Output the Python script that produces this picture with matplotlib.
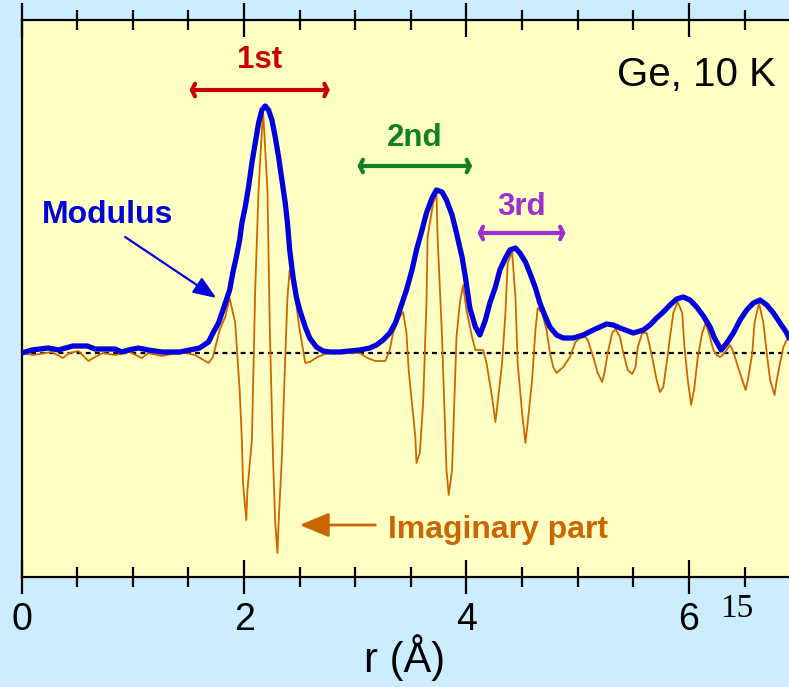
import matplotlib
matplotlib.use("Agg")
import matplotlib.pyplot as plt
from matplotlib.ticker import MultipleLocator

plt.rcParams['font.family'] = ['Liberation Sans', 'DejaVu Sans']

# ---- data (r in Angstrom, FT in arbitrary units) ----
mod_r = [0.00, 0.09, 0.24, 0.33, 0.46, 0.59, 0.66, 0.84, 0.90, 0.96,
         1.05, 1.14, 1.26, 1.42, 1.51, 1.60, 1.68, 1.72, 1.77, 1.81,
         1.84, 1.87, 1.90, 1.93, 1.96, 1.98, 2.01, 2.04, 2.07, 2.10,
         2.13, 2.16, 2.19, 2.22, 2.25, 2.28, 2.31, 2.34, 2.37, 2.39,
         2.41, 2.44, 2.47, 2.50, 2.55, 2.59, 2.65, 2.71, 2.77, 2.86,
         3.04, 3.13, 3.19, 3.25, 3.31, 3.36, 3.40, 3.43, 3.46, 3.51,
         3.55, 3.60, 3.64, 3.69, 3.73, 3.78, 3.82, 3.87, 3.91, 3.96,
         3.99, 4.03, 4.08, 4.12, 4.17, 4.21, 4.26, 4.30, 4.35, 4.39,
         4.44, 4.48, 4.53, 4.57, 4.62, 4.66, 4.71, 4.75, 4.81, 4.87,
         4.96, 5.05, 5.14, 5.20, 5.26, 5.32, 5.38, 5.50, 5.59, 5.65,
         5.71, 5.77, 5.83, 5.89, 5.95, 6.01, 6.07, 6.13, 6.19, 6.23,
         6.29, 6.34, 6.40, 6.46, 6.52, 6.58, 6.64, 6.70, 6.76, 6.82,
         6.88, 6.90]
mod_val = [0.00, 0.03, 0.05, 0.03, 0.07, 0.07, 0.04, 0.04, 0.01, 0.03,
           0.05, 0.03, 0.01, 0.01, 0.03, 0.05, 0.11, 0.20, 0.30, 0.43,
           0.53, 0.63, 0.81, 0.96, 1.13, 1.30, 1.46, 1.66, 1.90, 2.10,
           2.30, 2.43, 2.47, 2.43, 2.33, 2.16, 1.96, 1.73, 1.50, 1.30,
           1.03, 0.76, 0.56, 0.43, 0.26, 0.15, 0.06, 0.02, 0.01, 0.01,
           0.03, 0.05, 0.08, 0.13, 0.20, 0.30, 0.43, 0.53, 0.63, 0.83,
           1.03, 1.23, 1.40, 1.55, 1.63, 1.61, 1.53, 1.38, 1.20, 0.96,
           0.76, 0.45, 0.26, 0.18, 0.33, 0.50, 0.66, 0.83, 0.95, 1.03,
           1.05, 1.00, 0.91, 0.80, 0.65, 0.50, 0.36, 0.26, 0.18, 0.15,
           0.15, 0.18, 0.23, 0.26, 0.29, 0.28, 0.25, 0.20, 0.23, 0.28,
           0.35, 0.41, 0.48, 0.54, 0.56, 0.53, 0.46, 0.37, 0.26, 0.15,
           0.03, 0.10, 0.20, 0.33, 0.43, 0.50, 0.53, 0.48, 0.40, 0.30,
           0.20, 0.15]

im_r = [0.00, 0.10, 0.27, 0.37, 0.43, 0.51, 0.60, 0.66, 0.73, 0.84, 0.97, 1.08,
        1.14, 1.26, 1.35, 1.47, 1.56, 1.68, 1.72, 1.78, 1.83, 1.87, 1.92, 1.94,
        1.96, 1.98, 1.99, 2.02, 2.03, 2.07, 2.10, 2.13, 2.17, 2.21, 2.23, 2.26,
        2.28, 2.30, 2.31, 2.34, 2.37, 2.39, 2.41, 2.46, 2.50, 2.55, 2.59, 2.66,
        2.75, 2.84, 3.04, 3.11, 3.18, 3.27, 3.31, 3.34, 3.40, 3.43, 3.46, 3.48,
        3.51, 3.54, 3.55, 3.58, 3.61, 3.64, 3.65, 3.70, 3.73, 3.74, 3.78, 3.80,
        3.82, 3.84, 3.87, 3.89, 3.91, 3.94, 3.97, 4.00, 4.05, 4.08, 4.10, 4.15,
        4.18, 4.23, 4.26, 4.28, 4.32, 4.35, 4.37, 4.41, 4.44, 4.46, 4.50, 4.53,
        4.55, 4.59, 4.62, 4.64, 4.68, 4.72, 4.75, 4.78, 4.81, 4.87, 4.93, 4.98,
        5.02, 5.07, 5.09, 5.14, 5.18, 5.22, 5.24, 5.27, 5.31, 5.34, 5.38, 5.41,
        5.45, 5.49, 5.52, 5.54, 5.58, 5.62, 5.65, 5.68, 5.71, 5.74, 5.77, 5.80,
        5.83, 5.86, 5.90, 5.94, 5.96, 5.99, 6.02, 6.05, 6.08, 6.12, 6.15, 6.19,
        6.22, 6.25, 6.28, 6.32, 6.37, 6.40, 6.43, 6.48, 6.51, 6.53, 6.57, 6.59,
        6.63, 6.67, 6.70, 6.73, 6.77, 6.79, 6.82, 6.85, 6.88]
im_val = [0.00, -0.02, 0.01, -0.05, 0.00, 0.02, -0.08, -0.04, 0.00, -0.02, 0.01, -0.05,
          0.00, -0.03, -0.01, 0.00, -0.02, -0.10, -0.04, 0.23, 0.36, 0.55, 0.30, -0.04,
          -0.37, -0.87, -1.30, -1.67, -1.37, -0.87, 0.63, 1.63, 2.43, 1.63, 0.30, -1.04,
          -1.70, -2.00, -1.70, -1.04, -0.04, 0.56, 0.83, 0.56, 0.23, -0.10, -0.09, -0.04,
          0.00, 0.00, 0.00, -0.05, -0.08, -0.08, 0.03, 0.20, 0.36, 0.41, 0.20, -0.17,
          -0.50, -0.84, -1.10, -1.00, -0.50, 0.50, 1.16, 1.50, 1.60, 1.16, 0.16, -0.50,
          -1.17, -1.42, -1.17, -0.50, 0.16, 0.50, 0.68, 0.43, 0.16, 0.03, 0.03, 0.03,
          -0.10, -0.44, -0.69, -0.50, -0.10, 0.40, 0.90, 1.01, 0.56, -0.10, -0.60, -0.90,
          -0.70, -0.27, 0.23, 0.45, 0.40, 0.23, 0.00, -0.14, -0.20, -0.14, -0.04, 0.11,
          0.15, 0.16, 0.13, -0.04, -0.20, -0.29, -0.20, 0.00, 0.20, 0.24, 0.16, 0.00,
          -0.17, -0.21, -0.14, 0.06, 0.20, 0.20, 0.06, -0.10, -0.27, -0.39, -0.34, -0.10,
          0.16, 0.40, 0.51, 0.40, 0.06, -0.27, -0.52, -0.34, -0.04, 0.20, 0.30, 0.16,
          0.03, -0.02, -0.04, 0.00, 0.08, 0.01, -0.10, -0.27, -0.37, -0.27, 0.00, 0.30,
          0.50, 0.30, 0.00, -0.27, -0.42, -0.27, -0.10, 0.06, 0.13]

x_ticks = [0, 2, 4, 6]
x_tick_labels = ["0", "2", "4", "6"]
shell_labels = ["1st", "2nd", "3rd"]
shell_ranges = [(1.51, 2.77), (3.02, 4.05), (4.10, 4.89)]

# ---- styling ----
BG = '#CCECFF'
AX_BG = '#FFFFC4'
BLUE = '#0000DD'
ORANGE = '#CC6600'
shell_colors = ['#C80000', '#108020', '#9B2FD0']

fig = plt.figure(figsize=(7.89, 6.87), dpi=100, facecolor=BG)
ax = fig.add_axes([21.7 / 789, 110 / 687, 778.4 / 789, 557 / 687])
ax.set_facecolor(AX_BG)
ax.set_xlim(0, 7.0)
ax.set_ylim(-2.24, 3.33)

ax.axhline(0, color='black', lw=1.6, ls=(0, (2.2, 1.9)), zorder=1)
ax.plot(im_r, im_val, color=ORANGE, lw=1.3, zorder=2)
ax.plot(mod_r, mod_val, color=BLUE, lw=3.8, zorder=3,
        solid_joinstyle='round', solid_capstyle='round')

# spines & ticks
for s in ['left', 'bottom', 'top']:
    ax.spines[s].set_linewidth(1.6)
ax.spines['right'].set_visible(False)
ax.set_yticks([])
ax.set_xticks(x_ticks)
ax.set_xticklabels(x_tick_labels)
ax.xaxis.set_minor_locator(MultipleLocator(0.5))
ax.tick_params(axis='x', which='major', direction='inout', length=24, width=1.6,
               top=True, labelsize=27, pad=6)
ax.tick_params(axis='x', which='minor', direction='inout', length=15, width=1.6,
               top=True)

# shell annotations
shell_text_y = [2.93, 2.15, 1.46]
shell_arrow_y = [2.63, 1.87, 1.20]
for lab, (a, b), c, ty, ay in zip(shell_labels, shell_ranges, shell_colors,
                                   shell_text_y, shell_arrow_y):
    ax.annotate('', xy=(a, ay), xytext=(b, ay),
                arrowprops=dict(arrowstyle='<->,head_length=0.22,head_width=0.45',
                                color=c, lw=3.0, shrinkA=0, shrinkB=0))
    ax.text((a + b) / 2, ty, lab, color=c, fontsize=22.5, fontweight='bold',
            ha='center', va='center')

ax.text(6.78, 2.78, 'Ge, 10 K', fontsize=29, ha='right', va='center', color='black')

ax.text(0.18, 1.38, 'Modulus', color=BLUE, fontsize=23, fontweight='bold',
        ha='left', va='center')
ax.annotate('', xy=(1.75, 0.55), xytext=(0.93, 1.16),
            arrowprops=dict(arrowstyle='-|>,head_length=1.4,head_width=0.55',
                            color=BLUE, lw=1.6, shrinkA=0, shrinkB=0))

ax.text(3.29, -1.77, 'Imaginary part', color=ORANGE, fontsize=23,
        fontweight='bold', ha='left', va='center')
ax.annotate('', xy=(2.50, -1.72), xytext=(3.18, -1.72),
            arrowprops=dict(arrowstyle='-|>,head_length=1.8,head_width=0.75',
                            color=ORANGE, lw=2.0, shrinkA=0, shrinkB=0))

fig.text(405 / 789, 1 - 658 / 687, 'r (Å)', fontsize=30, ha='center', va='center')
fig.text(737 / 789, 1 - 609 / 687, '15', fontsize=24, ha='center', va='center',
         family='Liberation Serif')

fig.savefig('out.png', dpi=100, facecolor=BG)
